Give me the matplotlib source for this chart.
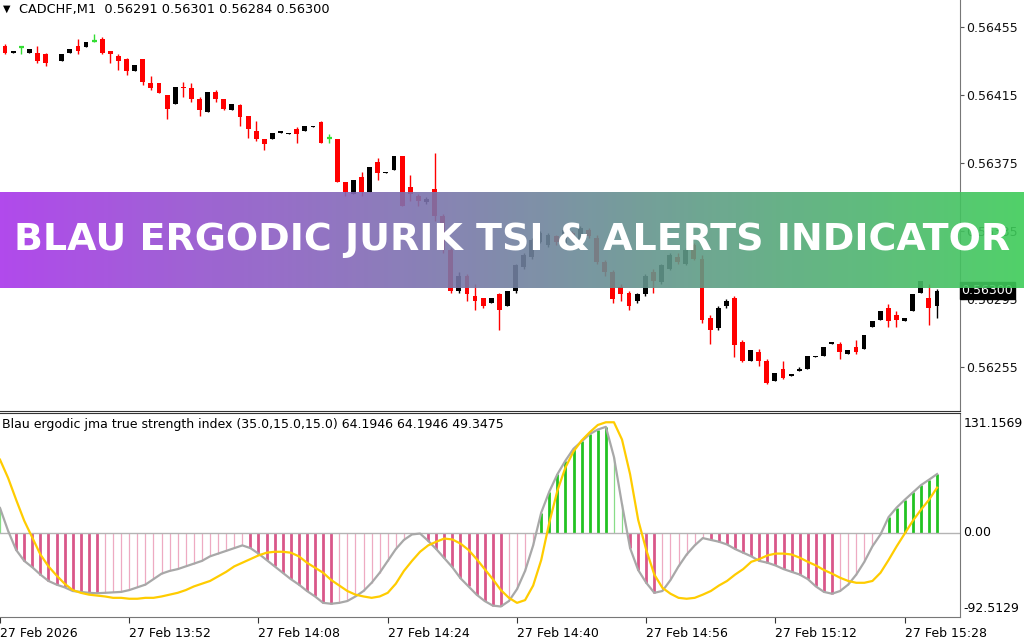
import numpy as np
import matplotlib.pyplot as plt
from matplotlib.colors import LinearSegmentedColormap
import matplotlib.transforms as mtransforms

# CADCHF M1, bar 0 = 13:37
opens = [0.56444, 0.56440, 0.56443, 0.56440, 0.56440, 0.56439, np.nan, 0.56435, 0.56440, 0.56444,
         0.56443, 0.56447, 0.56448, 0.56441, 0.56438, 0.56436, 0.56429, 0.56436, 0.56422, 0.56422,
         0.56415, 0.56410, 0.56420, 0.56419, 0.56413, 0.56405, 0.56417, 0.56413, 0.56406, 0.56409,
         0.56403, 0.56394, 0.56389, 0.56389, 0.56393, 0.56392, 0.56395, 0.56394, 0.56396, 0.56399,
         0.56390, 0.56389, 0.56364, 0.56357, 0.56367, 0.56358, 0.56376, 0.56369, 0.56371, 0.56379,
         0.56361, 0.56356, 0.56352, 0.56360, 0.56344, 0.56324, 0.56300, 0.56309, 0.56297, 0.56296,
         0.56293, 0.56298, 0.56291, 0.56300, 0.56314, 0.56320, 0.56329, 0.56327, 0.56332, 0.56328,
         0.56334, 0.56330, 0.56336, 0.56331, 0.56317, 0.56311, 0.56302, 0.56299, 0.56294, 0.56298,
         0.56311, 0.56305, 0.56313, 0.56320, 0.56316, 0.56327, 0.56319, 0.56284, 0.56278, 0.56291,
         0.56296, 0.56270, 0.56259, 0.56264, 0.56259, 0.56247, 0.56254, 0.56250, 0.56253, 0.56254,
         0.56261, 0.56262, 0.56269, 0.56269, 0.56263, 0.56267, 0.56266, 0.56279, 0.56283, 0.56290,
         0.56286, 0.56282, 0.56288, 0.56299, 0.56296, 0.56291]
highs = [0.56445, 0.56441, 0.56443, 0.56442, 0.56444, 0.56440, np.nan, 0.56439, 0.56442, 0.56448,
         0.56446, 0.56451, 0.56449, 0.56441, 0.56439, 0.56437, 0.56433, 0.56436, 0.56426, 0.56422,
         0.56415, 0.56420, 0.56423, 0.56422, 0.56414, 0.56417, 0.56418, 0.56413, 0.56410, 0.56410,
         0.56403, 0.56400, 0.56389, 0.56393, 0.56394, 0.56393, 0.56396, 0.56397, 0.56397, 0.56400,
         0.56392, 0.56389, 0.56364, 0.56365, 0.56370, 0.56373, 0.56378, 0.56370, 0.56379, 0.56379,
         0.56368, 0.56357, 0.56355, 0.56381, 0.56345, 0.56325, 0.56311, 0.56310, 0.56304, 0.56296,
         0.56296, 0.56299, 0.56300, 0.56316, 0.56322, 0.56331, 0.56335, 0.56334, 0.56333, 0.56337,
         0.56335, 0.56338, 0.56337, 0.56333, 0.56318, 0.56312, 0.56304, 0.56300, 0.56299, 0.56310,
         0.56313, 0.56316, 0.56322, 0.56322, 0.56325, 0.56328, 0.56321, 0.56286, 0.56291, 0.56295,
         0.56297, 0.56271, 0.56265, 0.56266, 0.56260, 0.56252, 0.56259, 0.56251, 0.56255, 0.56262,
         0.56262, 0.56267, 0.56270, 0.56270, 0.56265, 0.56271, 0.56274, 0.56282, 0.56288, 0.56292,
         0.56288, 0.56284, 0.56298, 0.56306, 0.56304, 0.56301]
lows = [0.56439, 0.56440, 0.56439, 0.56440, 0.56434, 0.56432, np.nan, 0.56435, 0.56440, 0.56439,
        0.56443, 0.56446, 0.56439, 0.56434, 0.56430, 0.56427, 0.56429, 0.56421, 0.56418, 0.56416,
        0.56401, 0.56410, 0.56414, 0.56411, 0.56403, 0.56405, 0.56411, 0.56406, 0.56406, 0.56397,
        0.56390, 0.56388, 0.56383, 0.56389, 0.56393, 0.56392, 0.56387, 0.56394, 0.56396, 0.56387,
        0.56387, 0.56364, 0.56356, 0.56357, 0.56356, 0.56358, 0.56365, 0.56369, 0.56371, 0.56350,
        0.56353, 0.56350, 0.56351, 0.56341, 0.56322, 0.56299, 0.56299, 0.56294, 0.56289, 0.56290,
        0.56293, 0.56277, 0.56291, 0.56299, 0.56313, 0.56319, 0.56328, 0.56326, 0.56327, 0.56327,
        0.56330, 0.56329, 0.56331, 0.56316, 0.56309, 0.56293, 0.56294, 0.56289, 0.56293, 0.56297,
        0.56299, 0.56304, 0.56312, 0.56316, 0.56315, 0.56318, 0.56281, 0.56269, 0.56277, 0.56290,
        0.56261, 0.56258, 0.56259, 0.56256, 0.56245, 0.56247, 0.56248, 0.56250, 0.56253, 0.56254,
        0.56261, 0.56262, 0.56269, 0.56260, 0.56263, 0.56263, 0.56266, 0.56279, 0.56283, 0.56279,
        0.56279, 0.56282, 0.56288, 0.56299, 0.56280, 0.56284]
closes = [0.56440, 0.56441, 0.56443, 0.56442, 0.56435, 0.56434, np.nan, 0.56439, 0.56442, 0.56441,
          0.56446, 0.56447, 0.56440, 0.56439, 0.56435, 0.56429, 0.56433, 0.56423, 0.56419, 0.56416,
          0.56407, 0.56420, 0.56419, 0.56413, 0.56406, 0.56417, 0.56413, 0.56407, 0.56410, 0.56402,
          0.56395, 0.56389, 0.56386, 0.56393, 0.56394, 0.56393, 0.56392, 0.56397, 0.56397, 0.56387,
          0.56390, 0.56364, 0.56358, 0.56365, 0.56358, 0.56373, 0.56369, 0.56370, 0.56379, 0.56350,
          0.56357, 0.56353, 0.56354, 0.56344, 0.56324, 0.56300, 0.56309, 0.56298, 0.56294, 0.56291,
          0.56296, 0.56289, 0.56300, 0.56315, 0.56321, 0.56330, 0.56334, 0.56333, 0.56329, 0.56336,
          0.56331, 0.56337, 0.56332, 0.56317, 0.56311, 0.56295, 0.56298, 0.56291, 0.56298, 0.56309,
          0.56306, 0.56315, 0.56321, 0.56317, 0.56324, 0.56319, 0.56283, 0.56277, 0.56290, 0.56294,
          0.56268, 0.56259, 0.56265, 0.56259, 0.56246, 0.56252, 0.56249, 0.56251, 0.56254, 0.56262,
          0.56262, 0.56267, 0.56270, 0.56264, 0.56265, 0.56264, 0.56274, 0.56282, 0.56288, 0.56282,
          0.56283, 0.56284, 0.56298, 0.56306, 0.56290, 0.56300]

# indicator values, bar -1 .. 115
tsi = [27, 2, -19, -31, -38, -46, -53, -57, -60, -64, -65, -66, -66.5, -66, -65.5, -65, -63, -60,
       -57, -51, -45, -42, -40, -37, -34, -31, -26, -23, -20, -17, -14, -17, -23, -30, -37, -44,
       -51, -57, -64, -70, -77, -78, -77, -75, -70, -64, -55, -44, -31, -18, -8, -2, -1, -9, -18,
       -28, -38, -50, -59, -68, -75, -80, -81, -75, -62, -42, -14, 22, 45, 64, 79, 92, 100, 108,
       113, 116, 83, 31, -17, -41, -55, -66, -64, -52, -37, -24, -14, -6, -8, -10, -13, -18, -22,
       -26, -31, -33, -36, -40, -43, -46, -51, -59, -65, -67, -64, -57, -46, -32, -15, -2, 17,
       27.5, 36, 44, 52, 58, 64.1946]
signal = [80, 60, 36, 13, -5.5, -24, -37, -47, -56, -63, -66, -68, -69, -70, -71.5, -71.5, -72.5,
          -72.5, -71.5, -71.5, -70, -68, -66, -63, -59, -56, -53, -48, -43, -37, -33, -29, -25, -22,
          -21, -21, -22, -26, -33, -38.5, -44, -52, -58, -64, -68, -70, -71.5, -70, -66, -56, -42,
          -31, -21, -14, -10, -6.5, -7.5, -12, -19, -29, -40, -51, -63, -71.5, -77, -74, -58, -30,
          11, 46, 71.5, 89, 101, 110, 118, 121, 121, 102, 64, 14, -19, -46, -60.5, -67, -71.5,
          -72.5, -71.5, -68, -64, -58, -53, -46, -40, -32, -29, -25, -23, -23, -24, -27.5, -32, -36,
          -41, -45, -49.5, -53, -55, -55, -53, -44, -30, -15, -1, 13, 25, 36, 49.3475]

price_ticks = [0.56255, 0.56295, 0.56335, 0.56375, 0.56415, 0.56455]
time_ticks = [-1, 15, 31, 47, 63, 79, 95, 111]
time_labels = ['27 Feb 2026', '27 Feb 13:52', '27 Feb 14:08', '27 Feb 14:24', '27 Feb 14:40',
               '27 Feb 14:56', '27 Feb 15:12', '27 Feb 15:28']
ind_max = 131.1569
ind_min = -92.5129

W, H = 1024, 640
fig = plt.figure(figsize=(W / 100, H / 100), dpi=100)
fs = 9
xlim = (-5 / 8.1, 954 / 8.1)

# ---- price panel
ax = fig.add_axes([0, 1 - 410.5 / H, 959.5 / W, 410.5 / H])
o = np.array(opens); h = np.array(highs); l = np.array(lows); c = np.array(closes)
x = np.arange(len(o))
ok = ~np.isnan(o)
dir_ = np.sign(np.round((c - o) * 1e5))
cols = np.where(dir_ > 0, 'black', np.where(dir_ < 0, '#ff0000', '#33dd33'))
ax.vlines(x[ok], l[ok], h[ok], colors=cols[ok], linewidth=1.0)
body = ok & (dir_ != 0)
ax.bar(x[body], (c - o)[body], bottom=o[body], width=0.6, color=cols[body], linewidth=0)
doji = ok & (dir_ == 0)
ax.hlines(o[doji], x[doji] - 0.32, x[doji] + 0.32, colors=cols[doji], linewidth=1.6)

ax.set_xlim(*xlim)
ax.set_ylim(0.562297, 0.564709)
ax.yaxis.tick_right()
ax.set_yticks(price_ticks)
ax.set_yticklabels(['%.5f' % p for p in price_ticks], fontsize=9, color='#111111')
ax.tick_params(axis='y', length=3, width=0.8, color='#555555', pad=1.5)
ax.set_xticks([])
for s in ['left', 'top']:
    ax.spines[s].set_visible(False)
ax.spines['right'].set_color('#777777')
ax.spines['bottom'].set_color('#333333')
fig.text(3 / W, 1 - 9 / H, '\u25bc', fontsize=7, va='center', ha='left', color='black')
fig.text(19 / W, 1 - 9 / H, 'CADCHF,M1  %.5f %.5f %.5f %.5f' % (o[-1], h[-1], l[-1], c[-1]),
         fontsize=9.3, va='center', ha='left', color='black')
ax.text(1.002, c[-1], '%.5f' % c[-1],
        transform=mtransforms.blended_transform_factory(ax.transAxes, ax.transData),
        fontsize=9, color='white', va='center', ha='left',
        bbox=dict(boxstyle='square,pad=0.15', facecolor='black', edgecolor='black'))

# ---- indicator panel
ax2 = fig.add_axes([0, 1 - 617 / H, 959.5 / W, 204 / H])
v = np.array(tsi, dtype=float)
xi = np.arange(-1, len(v) - 1)
rising = np.r_[False, v[1:] > v[:-1]]
for mask, col, lw in [(~rising & (v < 0), '#d9578a', 2.0),
                      (rising & (v < 0), '#eeaac2', 0.9),
                      (rising & (v >= 0), '#22c322', 2.0),
                      (~rising & (v >= 0), '#88dd88', 0.9)]:
    ax2.vlines(xi[mask], 0, v[mask], colors=col, linewidth=lw)
ax2.axhline(0, color='#b4b4b4', linewidth=1.0)
ax2.plot(xi, v, color='#a8a8a8', linewidth=1.6)
ax2.plot(xi, signal, color='#ffcc00', linewidth=1.6)
ax2.set_xlim(*xlim)
ax2.set_ylim(ind_min, ind_max)
ax2.set_yticks([])
ax2.set_xticks(time_ticks)
ax2.set_xticklabels(time_labels, fontsize=fs, ha='left')
ax2.tick_params(axis='x', length=4, width=0.8, color='#333333', pad=3)
ax2.spines['left'].set_visible(False)
ax2.spines['right'].set_color('#777777')
ax2.spines['top'].set_color('#333333')
ax2.spines['bottom'].set_color('#777777')
ax2.text(0.002, 0.945, 'Blau ergodic jma true strength index (35.0,15.0,15.0) %.4f %.4f %.4f'
         % (v[-1], v[-1], signal[-1]), transform=ax2.transAxes, fontsize=fs, va='center', ha='left')
ax2.text(1.004, 0.948, '%.4f' % ind_max, transform=ax2.transAxes, fontsize=9, va='center', ha='left')
ax2.text(1.004, 0.044, '%.4f' % ind_min, transform=ax2.transAxes, fontsize=9, va='center', ha='left')
ax2.text(1.004, 0, '0.00', transform=mtransforms.blended_transform_factory(ax2.transAxes, ax2.transData),
         fontsize=9, va='center', ha='left')

# ---- banner
ban = fig.add_axes([0, 1 - 288 / H, 1, 96 / H])
grad = np.linspace(0, 1, 512).reshape(1, -1)
cmap = LinearSegmentedColormap.from_list('ban', ['#a835ea', '#3dcc58'])
ban.imshow(grad, aspect='auto', cmap=cmap, alpha=0.9, extent=[0, 1, 0, 1])
ban.set_xlim(0, 1)
ban.set_ylim(0, 1)
ban.axis('off')
ban.text(0.5, 0.5, 'BLAU ERGODIC JURIK TSI & ALERTS INDICATOR', color='white', fontsize=27.4,
         fontweight='bold', family='DejaVu Sans', ha='center', va='center')

fig.savefig('out.png', dpi=100)
